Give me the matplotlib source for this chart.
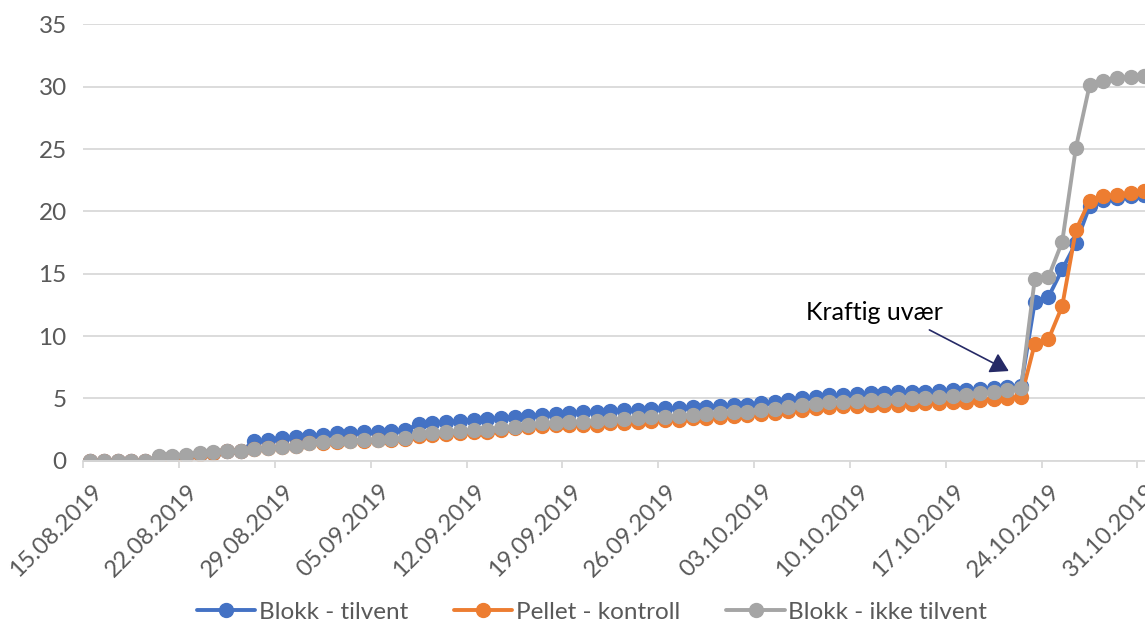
import numpy as np
import pandas as pd
import matplotlib
matplotlib.use("Agg")
import matplotlib.pyplot as plt
import matplotlib.transforms as mtransforms

plt.rcParams['font.family'] = ['Lato', 'DejaVu Sans']

# one reading per day from 15.08.2019
dates = pd.date_range("2019-08-15", periods=78, freq="D")

blokk_tilvent = [
    0.0, 0.0, 0.0, 0.0, 0.0, 0.3, 0.3, 0.4, 0.55, 0.65, 0.75, 0.8,
    1.55, 1.65, 1.8, 1.9, 2.0, 2.1, 2.2, 2.25, 2.3, 2.35, 2.4, 2.45,
    2.95, 3.05, 3.1, 3.2, 3.3, 3.35, 3.45, 3.55, 3.6, 3.7, 3.75, 3.85,
    3.9, 3.95, 4.0, 4.05, 4.1, 4.15, 4.2, 4.25, 4.3, 4.35, 4.4, 4.45,
    4.5, 4.6, 4.7, 4.85, 5.0, 5.1, 5.25, 5.3, 5.35, 5.4, 5.45, 5.5,
    5.5, 5.55, 5.6, 5.65, 5.7, 5.75, 5.85, 5.95, 6.0,
    12.75, 13.15, 15.35, 17.45, 20.4, 20.9, 21.1, 21.2, 21.3,
]
pellet_kontroll = [
    0.0, 0.0, 0.0, 0.0, 0.0, 0.3, 0.3, 0.4, 0.55, 0.65, 0.75, 0.8,
    0.95, 1.0, 1.1, 1.2, 1.4, 1.45, 1.5, 1.55, 1.6, 1.65, 1.7, 1.75,
    2.0, 2.1, 2.15, 2.25, 2.3, 2.35, 2.5, 2.6, 2.7, 2.8, 2.85, 2.9,
    2.85, 2.9, 3.0, 3.05, 3.15, 3.2, 3.25, 3.3, 3.4, 3.45, 3.5, 3.6,
    3.65, 3.75, 3.85, 4.0, 4.1, 4.2, 4.35, 4.4, 4.4, 4.45, 4.5, 4.5,
    4.55, 4.6, 4.65, 4.7, 4.75, 4.85, 4.95, 5.05, 5.1,
    9.4, 9.75, 12.4, 18.5, 20.85, 21.2, 21.35, 21.45, 21.6,
]
blokk_ikke_tilvent = [
    0.0, 0.0, 0.0, 0.0, 0.0, 0.35, 0.35, 0.45, 0.6, 0.7, 0.8, 0.8,
    0.95, 1.0, 1.1, 1.2, 1.45, 1.5, 1.55, 1.6, 1.65, 1.7, 1.75, 1.8,
    2.15, 2.25, 2.3, 2.4, 2.45, 2.5, 2.65, 2.75, 2.9, 3.0, 3.05, 3.1,
    3.15, 3.2, 3.3, 3.35, 3.45, 3.5, 3.55, 3.6, 3.7, 3.75, 3.8, 3.9,
    3.95, 4.05, 4.15, 4.3, 4.45, 4.55, 4.7, 4.75, 4.8, 4.85, 4.9, 4.95,
    5.0, 5.05, 5.1, 5.2, 5.3, 5.4, 5.55, 5.7, 5.85,
    14.6, 14.75, 17.55, 25.1, 30.1, 30.5, 30.7, 30.8, 30.9,
]

series = [
    ("Blokk - tilvent", blokk_tilvent, "#4472C4"),
    ("Pellet - kontroll", pellet_kontroll, "#ED7D31"),
    ("Blokk - ikke tilvent", blokk_ikke_tilvent, "#A5A5A5"),
]

# points sit between the weekly tick marks (half a day in)
x = np.arange(len(dates)) + 0.5
tick_pos = np.arange(0, len(dates), 7)
tick_labels = [d.strftime("%d.%m.%Y") for d in dates[tick_pos]]

fig = plt.figure(figsize=(11.45, 6.24), dpi=100)
ax = fig.add_axes([0.0728, 0.2615, 0.9272, 0.6994])

for name, vals, col in series:
    ax.plot(x, vals, color=col, lw=2.8, marker="o", ms=10, label=name,
            solid_capstyle="round")

ax.set_xlim(0, 77.55)
ax.set_ylim(0, 35)
ax.set_yticks(range(0, 36, 5))
ax.grid(axis="y", color="#D9D9D9", lw=1.3)
ax.set_axisbelow(True)
for s in ["top", "right", "left"]:
    ax.spines[s].set_visible(False)
ax.spines["bottom"].set_color("#D9D9D9")
ax.spines["bottom"].set_linewidth(1.3)

ax.set_xticks(tick_pos)
ax.set_xticklabels(tick_labels, rotation=45, ha="right", va="top",
                   rotation_mode="anchor")
ax.tick_params(axis="x", length=5, color="#D9D9D9", width=1.3, pad=9,
               labelsize=17, labelcolor="#595959")
ax.tick_params(axis="y", length=0, pad=12, labelsize=17.5, labelcolor="#595959")
shift = mtransforms.ScaledTranslation(0.08, 0, fig.dpi_scale_trans)
for lab in ax.get_xticklabels():
    lab.set_transform(lab.get_transform() + shift)

ax.text(57.8, 11.9, "Kraftig uvær", fontsize=18, ha="center", va="center",
        color="black")
ax.annotate("", xy=(67.6, 7.2), xytext=(61.8, 10.5),
            arrowprops=dict(arrowstyle="-|>,head_length=0.5,head_width=0.3",
                            color="#262A66", lw=1.2, mutation_scale=22,
                            shrinkA=0, shrinkB=0))

fig.legend(loc="center", bbox_to_anchor=(592 / 1145, 1 - 612 / 624), ncol=3,
           frameon=False, fontsize=17.5, labelcolor="#595959", handlelength=2.4,
           handletextpad=0.15, columnspacing=1.9)

fig.savefig("out.png", dpi=100)
